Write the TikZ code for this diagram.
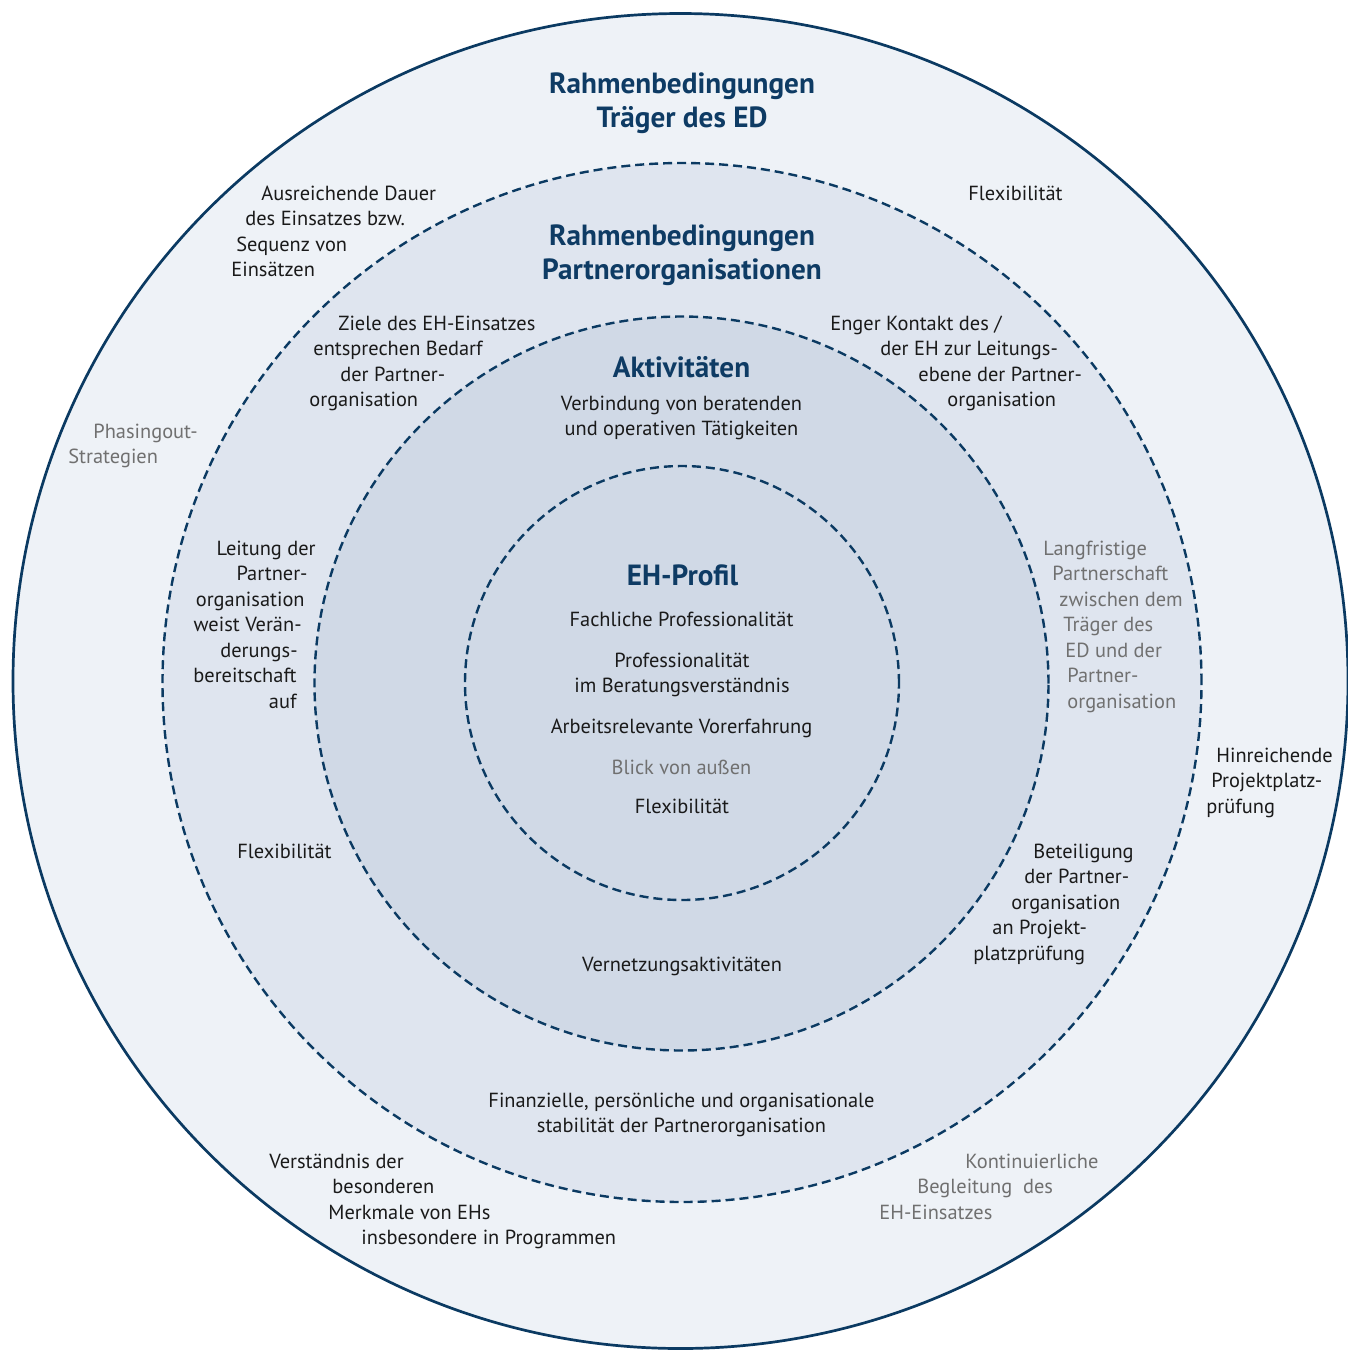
\documentclass[tikz,border=0pt]{standalone}
\usepackage{fontspec}
\setmainfont{PT Sans}
\definecolor{ringA}{HTML}{EEF2F7}
\definecolor{ringB}{HTML}{DFE5EF}
\definecolor{ringC}{HTML}{D0D9E6}
\definecolor{lineblue}{HTML}{0B3A62}
\definecolor{headblue}{HTML}{0E3B64}
\definecolor{txt}{HTML}{1A1A1A}
\definecolor{greytxt}{HTML}{707070}
\newcommand\rpad[1]{\hspace*{#1}\mbox{}}
\begin{document}
\begin{tikzpicture}[x=0.5pt,y=-0.5pt,
  outerring/.style={draw=lineblue, line width=1.35pt, fill=ringA},
  dashring/.style={draw=lineblue, line width=1.2pt, dash pattern=on 4.5pt off 2.5pt},
  body/.style={inner sep=0pt, text=txt, font=\fontsize{10.2pt}{12.75pt}\selectfont},
  grey/.style={body, text=greytxt},
  head/.style={inner sep=0pt, text=headblue, align=center,
    font=\fontsize{14.6pt}{17pt}\selectfont\bfseries},
]
\useasboundingbox (0,0) rectangle (1348,1351);
\fill[white] (0,0) rectangle (1348,1351);

% rings
\draw[outerring] (680.5,681) circle[radius=333.75pt];
\draw[dashring, fill=ringB] (682,682.5) circle[radius=259.75pt];
\draw[dashring, fill=ringC] (681.5,683.5) circle[radius=183.5pt];
\draw[dashring] (682,683) circle[radius=108.5pt];

% headings
\node[head, anchor=north] (h1) at (682,68.9) {\strut Rahmenbedingungen\\Träger des ED\strut};
\node[head, anchor=north] (h2) at (682,221.2) {\strut Rahmenbedingungen\\Partnerorganisationen\strut};
\node[head, anchor=north] (h3) at (681.5,353.2) {\strut Aktivitäten\strut};
\node[head, anchor=north] (h4) at (682.5,561.2) {\strut EH-Profil\strut};

% outer ring texts
\node[body, align=left, anchor=north west] (t1) at (231,182.15)
  {\strut\hspace*{15pt}Ausreichende Dauer\\\hspace*{7pt}des Einsatzes bzw.\\\hspace*{2.5pt}Sequenz von\\Einsätzen\strut};
\node[body, anchor=north west] (t2) at (968,182.15) {\strut Flexibilität\strut};
\node[grey, align=left, anchor=north west] (t3) at (68,420.15)
  {\strut\hspace*{12.5pt}Phasingout-\\Strategien\strut};
\node[body, align=left, anchor=north west] (t4) at (1206,744.15)
  {\strut\hspace*{5pt}Hinreichende\\\hspace*{2.5pt}Projektplatz-\\prüfung\strut};
\node[body, align=left, anchor=north west] (t5) at (269,1150.15)
  {\strut Verständnis der\\\hspace*{31.5pt}besonderen\\\hspace*{29.5pt}Merkmale von EHs\\\hspace*{46pt}insbesondere in Programmen\strut};
\node[grey, align=left, anchor=north west] (t6) at (879,1150.15)
  {\strut\hspace*{43pt}Kontinuierliche\\\hspace*{19pt}Begleitung~ des\\EH-Einsatzes\strut};

% second ring texts
\node[body, align=left, anchor=north west] (t7) at (309,312.15)
  {\strut\hspace*{14.5pt}Ziele des EH-Einsatzes\\\hspace*{2pt}entsprechen Bedarf\\\hspace*{15.5pt}der Partner-\\organisation\strut};
\node[body, align=left, anchor=north west] (t8) at (830,312.15)
  {\strut Enger Kontakt des /\\\hspace*{25pt}der EH zur Leitungs-\\\hspace*{44pt}ebene der Partner-\\\hspace*{58.5pt}organisation\strut};
\node[body, align=right, anchor=north east] (t9) at (316,537.15)
  {\strut Leitung der\\Partner-\rpad{4pt}\\organisation\rpad{5.5pt}\\weist Verän-\rpad{7pt}\\derungs-\rpad{9pt}\\bereitschaft\rpad{9.5pt}\\auf\rpad{9.5pt}\strut};
\node[body, anchor=north west] (t10) at (237,840.15) {\strut Flexibilität\strut};
\node[grey, align=left, anchor=north west] (t11) at (1043,537.15)
  {\strut Langfristige\\\hspace*{4.5pt}Partnerschaft\\\hspace*{8pt}zwischen dem\\\hspace*{10pt}Träger des\\\hspace*{11pt}ED und der\\\hspace*{12pt}Partner-\\\hspace*{12pt}organisation\strut};
\node[body, align=left, anchor=north west] (t12) at (973,840.15)
  {\strut\hspace*{30pt}Beteiligung\\\hspace*{25.5pt}der Partner-\\\hspace*{19pt}organisation\\\hspace*{9.5pt}an Projekt-\\platzprüfung\strut};
\node[body, align=center, anchor=north] (t13) at (681.5,1089.15)
  {\strut Finanzielle, persönliche und organisationale\\stabilität der Partnerorganisation\strut};

% third ring texts
\node[body, align=center, anchor=north] (t14) at (681.5,392.15)
  {\strut Verbindung von beratenden\\und operativen Tätigkeiten\strut};
\node[body, anchor=north] (t15) at (682,953.15) {\strut Vernetzungsaktivitäten\strut};

% inner circle texts
\node[body, anchor=north] (t16) at (681.5,608.15) {\strut Fachliche Professionalität\strut};
\node[body, align=center, anchor=north] (t17) at (682,649.15) {\strut Professionalität\\im Beratungsverständnis\strut};
\node[body, anchor=north] (t18) at (681.5,715.15) {\strut Arbeitsrelevante Vorerfahrung\strut};
\node[grey, anchor=north] (t19) at (681.5,756.15) {\strut Blick von außen\strut};
\node[body, anchor=north] (t20) at (682,795.15) {\strut Flexibilität\strut};
\end{tikzpicture}
\end{document}
